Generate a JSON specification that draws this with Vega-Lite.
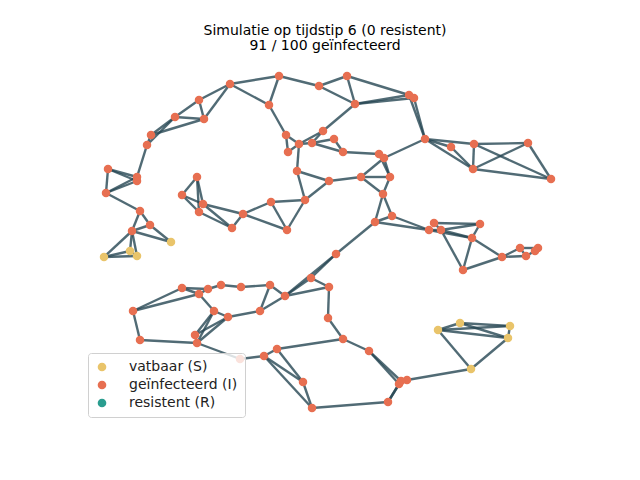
{
  "$schema": "https://vega.github.io/schema/vega-lite/v6.json",
  "width": 640,
  "height": 480,
  "padding": 0,
  "autosize": "none",
  "title": {
    "text": "Simulatie op tijdstip 6 (0 resistent)",
    "subtitle": "91 / 100 geïnfecteerd",
    "font": "DejaVu Sans",
    "subtitleFont": "DejaVu Sans",
    "fontSize": 14,
    "subtitleFontSize": 14,
    "fontWeight": "normal",
    "color": "black",
    "subtitleColor": "black",
    "subtitlePadding": 1,
    "anchor": "middle",
    "dx": 5,
    "dy": 57
  },
  "datasets": {
    "nodes": [
      {"id":1,"x":230,"y":84,"s":"geïnfecteerd (I)"},{"id":2,"x":279,"y":76,"s":"geïnfecteerd (I)"},
      {"id":3,"x":269,"y":105,"s":"geïnfecteerd (I)"},{"id":4,"x":199,"y":100,"s":"geïnfecteerd (I)"},
      {"id":5,"x":175,"y":117,"s":"geïnfecteerd (I)"},{"id":6,"x":204,"y":119,"s":"geïnfecteerd (I)"},
      {"id":7,"x":151,"y":135,"s":"geïnfecteerd (I)"},{"id":8,"x":147,"y":145,"s":"geïnfecteerd (I)"},
      {"id":9,"x":108,"y":169,"s":"geïnfecteerd (I)"},{"id":10,"x":137,"y":177,"s":"geïnfecteerd (I)"},
      {"id":11,"x":137,"y":181,"s":"geïnfecteerd (I)"},{"id":12,"x":106,"y":193,"s":"geïnfecteerd (I)"},
      {"id":13,"x":140,"y":211,"s":"geïnfecteerd (I)"},{"id":14,"x":150,"y":225,"s":"geïnfecteerd (I)"},
      {"id":15,"x":132,"y":231,"s":"geïnfecteerd (I)"},{"id":16,"x":171,"y":242,"s":"vatbaar (S)"},
      {"id":17,"x":104,"y":257,"s":"vatbaar (S)"},{"id":18,"x":130,"y":251,"s":"vatbaar (S)"},
      {"id":19,"x":137,"y":256,"s":"vatbaar (S)"},{"id":20,"x":197,"y":177,"s":"geïnfecteerd (I)"},
      {"id":21,"x":182,"y":195,"s":"geïnfecteerd (I)"},{"id":22,"x":203,"y":204,"s":"geïnfecteerd (I)"},
      {"id":23,"x":199,"y":212,"s":"geïnfecteerd (I)"},{"id":24,"x":232,"y":228,"s":"geïnfecteerd (I)"},
      {"id":25,"x":243,"y":214,"s":"geïnfecteerd (I)"},{"id":26,"x":271,"y":202,"s":"geïnfecteerd (I)"},
      {"id":27,"x":287,"y":230,"s":"geïnfecteerd (I)"},{"id":28,"x":305,"y":200,"s":"geïnfecteerd (I)"},
      {"id":29,"x":297,"y":171,"s":"geïnfecteerd (I)"},{"id":30,"x":286,"y":135,"s":"geïnfecteerd (I)"},
      {"id":31,"x":288,"y":152,"s":"geïnfecteerd (I)"},{"id":32,"x":299,"y":144,"s":"geïnfecteerd (I)"},
      {"id":33,"x":312,"y":143,"s":"geïnfecteerd (I)"},{"id":34,"x":323,"y":131,"s":"geïnfecteerd (I)"},
      {"id":35,"x":334,"y":139,"s":"geïnfecteerd (I)"},{"id":36,"x":343,"y":152,"s":"geïnfecteerd (I)"},
      {"id":37,"x":319,"y":86,"s":"geïnfecteerd (I)"},{"id":38,"x":347,"y":76,"s":"geïnfecteerd (I)"},
      {"id":39,"x":355,"y":104,"s":"geïnfecteerd (I)"},{"id":40,"x":409,"y":95,"s":"geïnfecteerd (I)"},
      {"id":41,"x":414,"y":98,"s":"geïnfecteerd (I)"},{"id":42,"x":425,"y":139,"s":"geïnfecteerd (I)"},
      {"id":43,"x":451,"y":147,"s":"geïnfecteerd (I)"},{"id":44,"x":474,"y":144,"s":"geïnfecteerd (I)"},
      {"id":45,"x":528,"y":143,"s":"geïnfecteerd (I)"},{"id":46,"x":473,"y":169,"s":"geïnfecteerd (I)"},
      {"id":47,"x":551,"y":179,"s":"geïnfecteerd (I)"},{"id":48,"x":379,"y":154,"s":"geïnfecteerd (I)"},
      {"id":49,"x":384,"y":158,"s":"geïnfecteerd (I)"},{"id":50,"x":390,"y":177,"s":"geïnfecteerd (I)"},
      {"id":51,"x":361,"y":177,"s":"geïnfecteerd (I)"},{"id":52,"x":329,"y":181,"s":"geïnfecteerd (I)"},
      {"id":53,"x":383,"y":194,"s":"geïnfecteerd (I)"},{"id":54,"x":392,"y":216,"s":"geïnfecteerd (I)"},
      {"id":55,"x":375,"y":222,"s":"geïnfecteerd (I)"},{"id":56,"x":434,"y":223,"s":"geïnfecteerd (I)"},
      {"id":57,"x":429,"y":230,"s":"geïnfecteerd (I)"},{"id":58,"x":441,"y":230,"s":"geïnfecteerd (I)"},
      {"id":59,"x":480,"y":224,"s":"geïnfecteerd (I)"},{"id":60,"x":472,"y":238,"s":"geïnfecteerd (I)"},
      {"id":61,"x":463,"y":270,"s":"geïnfecteerd (I)"},{"id":62,"x":502,"y":257,"s":"geïnfecteerd (I)"},
      {"id":63,"x":520,"y":248,"s":"geïnfecteerd (I)"},{"id":64,"x":538,"y":248,"s":"geïnfecteerd (I)"},
      {"id":65,"x":526,"y":256,"s":"geïnfecteerd (I)"},{"id":66,"x":535,"y":251,"s":"geïnfecteerd (I)"},
      {"id":67,"x":336,"y":254,"s":"geïnfecteerd (I)"},{"id":68,"x":311,"y":278,"s":"geïnfecteerd (I)"},
      {"id":69,"x":329,"y":287,"s":"geïnfecteerd (I)"},{"id":70,"x":285,"y":296,"s":"geïnfecteerd (I)"},
      {"id":71,"x":270,"y":285,"s":"geïnfecteerd (I)"},{"id":72,"x":241,"y":287,"s":"geïnfecteerd (I)"},
      {"id":73,"x":221,"y":285,"s":"geïnfecteerd (I)"},{"id":74,"x":208,"y":289,"s":"geïnfecteerd (I)"},
      {"id":75,"x":199,"y":294,"s":"geïnfecteerd (I)"},{"id":76,"x":182,"y":288,"s":"geïnfecteerd (I)"},
      {"id":77,"x":133,"y":311,"s":"geïnfecteerd (I)"},{"id":78,"x":214,"y":311,"s":"geïnfecteerd (I)"},
      {"id":79,"x":228,"y":317,"s":"geïnfecteerd (I)"},{"id":80,"x":260,"y":311,"s":"geïnfecteerd (I)"},
      {"id":81,"x":328,"y":318,"s":"geïnfecteerd (I)"},{"id":82,"x":195,"y":335,"s":"geïnfecteerd (I)"},
      {"id":83,"x":197,"y":343,"s":"geïnfecteerd (I)"},{"id":84,"x":140,"y":340,"s":"geïnfecteerd (I)"},
      {"id":85,"x":343,"y":339,"s":"geïnfecteerd (I)"},{"id":86,"x":369,"y":351,"s":"geïnfecteerd (I)"},
      {"id":87,"x":240,"y":359,"s":"geïnfecteerd (I)"},{"id":88,"x":264,"y":356,"s":"geïnfecteerd (I)"},
      {"id":89,"x":277,"y":349,"s":"geïnfecteerd (I)"},{"id":90,"x":303,"y":382,"s":"geïnfecteerd (I)"},
      {"id":91,"x":312,"y":408,"s":"geïnfecteerd (I)"},{"id":92,"x":388,"y":402,"s":"geïnfecteerd (I)"},
      {"id":93,"x":399,"y":384,"s":"geïnfecteerd (I)"},{"id":94,"x":407,"y":380,"s":"geïnfecteerd (I)"},
      {"id":95,"x":401,"y":381,"s":"geïnfecteerd (I)"},{"id":96,"x":438,"y":330,"s":"vatbaar (S)"},
      {"id":97,"x":460,"y":323,"s":"vatbaar (S)"},{"id":98,"x":510,"y":326,"s":"vatbaar (S)"},
      {"id":99,"x":508,"y":338,"s":"vatbaar (S)"},{"id":100,"x":471,"y":369,"s":"vatbaar (S)"}
    ],
    "edges": [
      {"a":1,"b":2},{"a":1,"b":3},{"a":2,"b":3},{"a":1,"b":4},{"a":1,"b":6},{"a":4,"b":5},{"a":4,"b":6},
      {"a":5,"b":6},{"a":5,"b":7},{"a":6,"b":7},{"a":5,"b":8},{"a":7,"b":8},{"a":8,"b":10},{"a":9,"b":10},
      {"a":9,"b":11},{"a":9,"b":12},{"a":10,"b":12},{"a":11,"b":12},{"a":12,"b":13},{"a":13,"b":14},
      {"a":13,"b":15},{"a":14,"b":15},{"a":14,"b":16},{"a":15,"b":16},{"a":15,"b":17},{"a":15,"b":18},
      {"a":15,"b":19},{"a":17,"b":18},{"a":17,"b":19},{"a":18,"b":19},
      {"a":2,"b":37},{"a":37,"b":38},{"a":37,"b":39},{"a":38,"b":39},{"a":38,"b":40},{"a":39,"b":40},
      {"a":39,"b":41},{"a":40,"b":41},{"a":41,"b":42},{"a":40,"b":42},{"a":3,"b":30},
      {"a":30,"b":31},{"a":30,"b":32},{"a":31,"b":32},{"a":32,"b":33},{"a":32,"b":34},{"a":33,"b":34},
      {"a":33,"b":35},{"a":33,"b":36},{"a":35,"b":36},{"a":34,"b":39},{"a":32,"b":29},{"a":36,"b":48},
      {"a":48,"b":49},{"a":49,"b":42},{"a":48,"b":50},{"a":49,"b":50},{"a":49,"b":51},{"a":51,"b":50},
      {"a":52,"b":51},{"a":52,"b":29},{"a":29,"b":28},{"a":28,"b":52},{"a":50,"b":53},{"a":51,"b":53},
      {"a":53,"b":54},{"a":53,"b":55},{"a":55,"b":54},{"a":55,"b":67},{"a":54,"b":57},{"a":55,"b":57},
      {"a":56,"b":58},{"a":56,"b":59},{"a":58,"b":59},{"a":57,"b":58},{"a":57,"b":60},{"a":58,"b":60},
      {"a":58,"b":61},{"a":60,"b":61},{"a":59,"b":60},{"a":60,"b":62},{"a":61,"b":62},{"a":62,"b":63},
      {"a":62,"b":65},{"a":63,"b":64},{"a":65,"b":66},{"a":63,"b":65},{"a":64,"b":66},
      {"a":42,"b":43},{"a":42,"b":44},{"a":42,"b":46},{"a":43,"b":46},{"a":44,"b":46},{"a":44,"b":45},
      {"a":45,"b":46},{"a":44,"b":47},{"a":45,"b":47},{"a":46,"b":47},
      {"a":28,"b":26},{"a":28,"b":27},{"a":26,"b":27},{"a":26,"b":25},{"a":25,"b":24},{"a":25,"b":27},
      {"a":24,"b":22},{"a":24,"b":23},{"a":23,"b":21},{"a":21,"b":20},{"a":20,"b":22},{"a":20,"b":23},
      {"a":22,"b":25},{"a":21,"b":22},
      {"a":67,"b":68},{"a":67,"b":70},{"a":68,"b":69},{"a":68,"b":70},{"a":69,"b":81},{"a":69,"b":70},
      {"a":70,"b":71},{"a":70,"b":80},{"a":71,"b":72},{"a":72,"b":73},{"a":73,"b":74},{"a":74,"b":75},
      {"a":75,"b":76},{"a":74,"b":76},{"a":76,"b":77},{"a":75,"b":77},{"a":77,"b":84},{"a":84,"b":83},
      {"a":75,"b":78},{"a":78,"b":79},{"a":79,"b":80},{"a":71,"b":80},{"a":78,"b":82},{"a":78,"b":83},
      {"a":79,"b":82},{"a":79,"b":83},{"a":82,"b":83},{"a":83,"b":87},{"a":81,"b":85},{"a":85,"b":86},
      {"a":86,"b":93},{"a":86,"b":95},{"a":93,"b":94},{"a":93,"b":92},{"a":95,"b":92},{"a":94,"b":100},
      {"a":92,"b":91},{"a":91,"b":90},{"a":90,"b":89},{"a":89,"b":88},{"a":88,"b":87},{"a":88,"b":91},
      {"a":88,"b":90},{"a":89,"b":85},
      {"a":96,"b":97},{"a":96,"b":98},{"a":96,"b":99},{"a":97,"b":98},{"a":97,"b":99},{"a":98,"b":99},
      {"a":96,"b":100},{"a":99,"b":100}
    ]
  },
  "layer": [
    {
      "data": {"name": "edges"},
      "transform": [
        {"lookup": "a", "from": {"data": {"name": "nodes"}, "key": "id", "fields": ["x", "y"]}, "as": ["x1", "y1"]},
        {"lookup": "b", "from": {"data": {"name": "nodes"}, "key": "id", "fields": ["x", "y"]}, "as": ["x2", "y2"]}
      ],
      "mark": {"type": "rule", "color": "#264653", "strokeWidth": 2.4, "opacity": 0.8},
      "encoding": {
        "x": {"field": "x1", "type": "quantitative", "scale": {"domain": [0, 640]}, "axis": null},
        "y": {"field": "y1", "type": "quantitative", "scale": {"domain": [0, 480], "reverse": true}, "axis": null},
        "x2": {"field": "x2"},
        "y2": {"field": "y2"}
      }
    },
    {
      "data": {"name": "nodes"},
      "mark": {"type": "circle", "size": 72, "opacity": 1},
      "encoding": {
        "x": {"field": "x", "type": "quantitative", "scale": {"domain": [0, 640]}, "axis": null},
        "y": {"field": "y", "type": "quantitative", "scale": {"domain": [0, 480], "reverse": true}, "axis": null},
        "color": {
          "field": "s",
          "type": "nominal",
          "scale": {"domain": ["vatbaar (S)", "geïnfecteerd (I)", "resistent (R)"], "range": ["#e9c46a", "#e76f51", "#2a9d8f"]},
          "legend": {
            "title": null,
            "orient": "none",
            "legendX": 88,
            "legendY": 353,
            "padding": 7,
            "symbolType": "circle",
            "symbolSize": 75,
            "symbolOpacity": 1,
            "labelFont": "DejaVu Sans",
            "labelFontSize": 14,
            "labelColor": "#222",
            "labelOffset": 20,
            "rowPadding": 4,
            "fillColor": "rgba(255,255,255,0.8)",
            "strokeColor": "#d0d0d0",
            "cornerRadius": 3
          }
        }
      }
    }
  ],
  "config": {"view": {"stroke": null}}
}
